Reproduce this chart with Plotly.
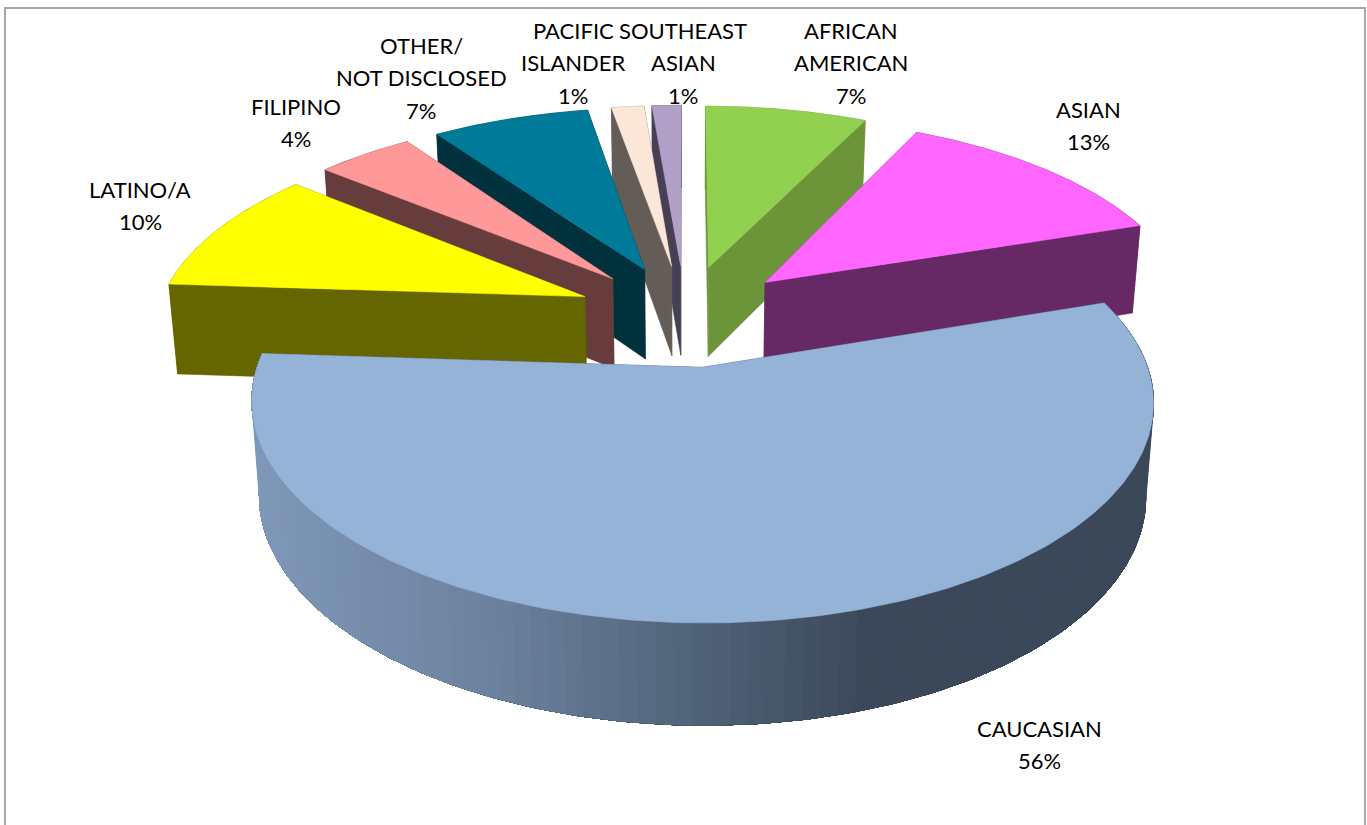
"""Exploded 3D-look pie of ethnicity shares, projected by hand onto a pixel-sized axis."""

import numpy as np
import plotly.graph_objects as go

# slice order is clockwise from 12 o'clock
names = ["AFRICAN AMERICAN", "ASIAN", "CAUCASIAN", "LATINO/A", "FILIPINO",
         "OTHER/ NOT DISCLOSED", "PACIFIC ISLANDER", "SOUTHEAST ASIAN"]
values = [7.2, 12.7, 56.1, 9.9, 4.3, 7.0, 1.45, 1.3]
top_colors = ["#92D050", "#FF66FF", "#95B3D7", "#FFFF00", "#FF9999", "#007A99", "#FBE6D8", "#B1A0C7"]
side_colors = ["#6C9539", "#662966", "#3B4859", "#666600", "#663C3C", "#00313D", "#645D57", "#474055"]

label_lines = [["AFRICAN", "AMERICAN"], ["ASIAN"], ["CAUCASIAN"], ["LATINO/A"], ["FILIPINO"],
               ["OTHER/", "NOT DISCLOSED"], ["PACIFIC", "ISLANDER"], ["SOUTHEAST", "ASIAN"]]
label_x = [851, 1088, 1039, 140, 296, 421, 573, 683]
label_y = [30, 109, 728, 189, 106, 45, 30, 30]
LINE_STEP = 32.5

# projection constants (pixels)
CX, CY = 685, 315
RX, RY = 428, 199
PERSP = 0.152
EXPLODE = 0.255
DEPTH = 91
TAPER = 0.017
BIG_SLICE_SHIFT = 3

# shading of the big slice's rim, left to right on screen
rim_x = [250, 500, 700, 880, 1160]
rim_rgb = np.array([[128, 153, 186], [108, 130, 158], [82, 100, 121], [59, 72, 89], [59, 72, 89]])


def project(x, y, z=0.0, shift=0.0):
    s = 1.0 / (1.0 + PERSP * y)
    sx = CX + shift + RX * x * s * (1 - TAPER * z)
    sy = CY - RY * y * s + DEPTH * z * s ** 0.55
    return sx, sy


def add_poly(fig, xs, ys, color):
    fig.add_trace(go.Scatter(
        x=np.append(xs, xs[0]), y=np.append(ys, ys[0]),
        mode="lines", fill="toself", fillcolor=color,
        line=dict(color=color, width=0.5),
        hoverinfo="skip", showlegend=False,
    ))


def add_slice(fig, start, end, top, side, shaded=False):
    mid = (start + end) / 2
    ox, oy = EXPLODE * np.sin(mid), EXPLODE * np.cos(mid)
    th = np.linspace(start, end, 200)
    px, py = ox + np.sin(th), oy + np.cos(th)
    shift = BIG_SLICE_SHIFT if shaded else 0

    # radial walls
    for t in (start, end):
        wx = np.array([ox, ox + np.sin(t), ox + np.sin(t), ox])
        wy = np.array([oy, oy + np.cos(t), oy + np.cos(t), oy])
        wz = np.array([0, 0, 1, 1])
        sx, sy = project(wx, wy, wz, shift)
        add_poly(fig, sx, sy, side)

    # outer rim: each band runs to the end of the arc so no seams show between bands
    if shaded:
        for i in range(0, len(th) - 2, 2):
            x1, y1 = project(px[i:], py[i:], 0, shift)
            x2, y2 = project(px[i:], py[i:], 1, shift)
            rgb = [np.interp(x1[0], rim_x, rim_rgb[:, c]) for c in range(3)]
            col = "rgb(%d,%d,%d)" % tuple(rgb)
            add_poly(fig, np.concatenate([x1, x2[::-1]]), np.concatenate([y1, y2[::-1]]), col)
    else:
        x1, y1 = project(px, py, 0)
        x2, y2 = project(px, py, 1)
        add_poly(fig, np.concatenate([x1, x2[::-1]]), np.concatenate([y1, y2[::-1]]), side)

    # top face
    sx, sy = project(np.append(ox, px), np.append(oy, py), 0, shift)
    add_poly(fig, sx, sy, top)


total = sum(values)
edges = np.cumsum([0] + values) / total * 2 * np.pi
mids = (edges[:-1] + edges[1:]) / 2

fig = go.Figure()
for i in np.argsort(-np.cos(mids)):  # back to front
    add_slice(fig, edges[i], edges[i + 1], top_colors[i], side_colors[i], shaded=names[i] == "CAUCASIAN")

for i, lines in enumerate(label_lines):
    for k, txt in enumerate(lines + ["%d%%" % round(values[i])]):
        fig.add_annotation(
            x=label_x[i], y=label_y[i] + k * LINE_STEP, text=txt,
            showarrow=False, xanchor="center", yanchor="middle",
            font=dict(family="Lato", size=22, color="#000000"),
        )

# chart frame, cut off by the bottom of the picture
fig.add_shape(type="rect", x0=5, y0=8, x1=1365, y1=840, line=dict(color="#A6A6A6", width=2))

fig.update_layout(
    width=1367,
    height=825,
    margin=dict(l=0, r=0, t=0, b=0),
    paper_bgcolor="white",
    plot_bgcolor="white",
    showlegend=False,
    xaxis=dict(range=[0, 1367], visible=False, fixedrange=True),
    yaxis=dict(range=[825, 0], visible=False, fixedrange=True),
)

fig.write_html("out.html", config=dict(displayModeBar=False),
               post_script="document.body.style.margin='0';document.documentElement.style.overflow='hidden';")
